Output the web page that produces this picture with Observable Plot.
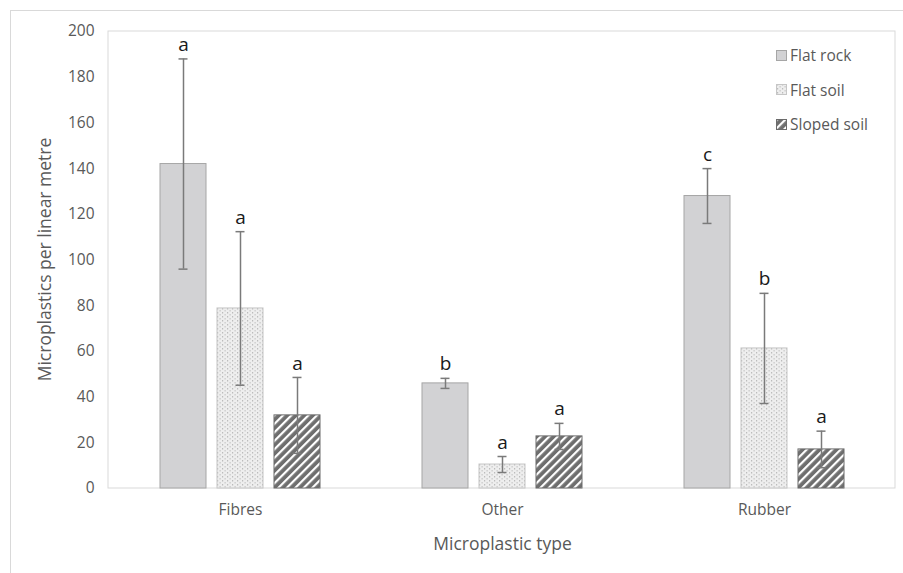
<!DOCTYPE html>
<html>
<head>
<meta charset="utf-8">
<script src="https://cdn.jsdelivr.net/npm/d3@7"></script>
<script src="https://cdn.jsdelivr.net/npm/@observablehq/plot@0.6"></script>
<style>
  html, body { margin: 0; padding: 0; background: #fff; overflow: hidden; width: 903px; height: 573px; }
  #wrap { position: relative; width: 903px; height: 573px; }
  #outer { position: absolute; left: 10px; top: 10px; width: 1000px; height: 1000px; border: 1px solid #d9d9d9; box-sizing: border-box; }
  #chart { position: absolute; left: 0; top: 0; }
  #legend { position: absolute; left: 776px; top: 44px; font-family: 'Open Sans', sans-serif; font-size: 15.5px; color: #595959; }
  #legend .item { display: flex; align-items: center; height: 22px; margin-bottom: 12.5px; }
  #legend svg { margin-right: 3px; }
</style>
</head>
<body>
<div id="wrap">
  <div id="outer"></div>
  <div id="chart"></div>
  <div id="legend"></div>
</div>
<script>
// ---- data ----
const types = ["Fibres", "Other", "Rubber"];
const sites = ["Flat rock", "Flat soil", "Sloped soil"];
const flatRock = [142, 46, 128];
const flatSoil = [78.8, 10.5, 61.3];
const slopedSoil = [32, 22.8, 17.1];
const flatRockErr = [46, 2.2, 12];
const flatSoilErr = [33.6, 3.5, 24.1];
const slopedSoilErr = [16.6, 5.7, 8];
const flatRockLetters = ["a", "b", "c"];
const flatSoilLetters = ["a", "a", "b"];
const slopedSoilLetters = ["a", "a", "a"];
const yTicks = [0, 20, 40, 60, 80, 100, 120, 140, 160, 180, 200];
const xTitle = "Microplastic type";
const yTitle = "Microplastics per linear metre";

const series = [
  {site: sites[0], vals: flatRock, err: flatRockErr, letters: flatRockLetters},
  {site: sites[1], vals: flatSoil, err: flatSoilErr, letters: flatSoilLetters},
  {site: sites[2], vals: slopedSoil, err: slopedSoilErr, letters: slopedSoilLetters}
];
const rows = [];
types.forEach((t, i) => {
  series.forEach(s => {
    rows.push({type: t, site: s.site, mean: s.vals[i], lo: s.vals[i] - s.err[i], hi: s.vals[i] + s.err[i], letter: s.letters[i]});
  });
});

const fills = {"Flat rock": "url(#pRock)", "Flat soil": "url(#pSoil)", "Sloped soil": "url(#pSlope)"};
const strokes = {"Flat rock": "#a6a6a6", "Flat soil": "#c6c6c6", "Sloped soil": "#6b6b6b"};

const W = 903, H = 573;
const mL = 108, mR = 8, mT = 31, mB = 85;

const barMarks = sites.map(s => Plot.barY(rows, {
  filter: d => d.site === s, x: "site", y: "mean",
  fill: fills[s], stroke: strokes[s], strokeWidth: 1
}));

const plot = Plot.plot({
  width: W, height: H,
  marginLeft: mL, marginRight: mR, marginTop: mT, marginBottom: mB,
  style: {fontFamily: "'Open Sans', sans-serif", fontSize: "15.5px", color: "#595959", background: "transparent"},
  facet: {data: rows, x: "type", marginTop: 0, marginBottom: 0, marginLeft: 0, marginRight: 0},
  fx: {domain: types, padding: 0, axis: "bottom", tickSize: 0, tickPadding: 15, label: xTitle, labelAnchor: "center", labelOffset: 61},
  x: {domain: sites, axis: null, paddingInner: 0.19, paddingOuter: 0.856},
  y: {domain: [0, 200], ticks: yTicks, tickSize: 0, tickPadding: 15, label: yTitle, labelAnchor: "center", labelOffset: 73},
  marks: [
    ...barMarks,
    Plot.ruleX(rows, {x: "site", y1: "lo", y2: "hi", stroke: "#7a7a7a", strokeWidth: 1.5}),
    Plot.tickY(rows, {x: "site", y: "hi", stroke: "#7a7a7a", strokeWidth: 1.5, insetLeft: 18.5, insetRight: 18.5}),
    Plot.tickY(rows, {x: "site", y: "lo", stroke: "#7a7a7a", strokeWidth: 1.5, insetLeft: 18.5, insetRight: 18.5}),
    Plot.text(rows, {x: "site", y: "hi", text: "letter", dy: -14, fill: "#1a1a1a", fontSize: 19})
  ]
});

// patterns
const svgEl = plot.tagName.toLowerCase() === "svg" ? plot : plot.querySelector("svg");
const svg = d3.select(svgEl);
const defs = svg.insert("defs", ":first-child");
const pr = defs.append("pattern").attr("id", "pRock").attr("patternUnits", "userSpaceOnUse").attr("width", 4).attr("height", 4);
pr.append("rect").attr("width", 4).attr("height", 4).attr("fill", "#d2d2d4");
const ps = defs.append("pattern").attr("id", "pSoil").attr("patternUnits", "userSpaceOnUse").attr("width", 5).attr("height", 4);
ps.append("rect").attr("width", 5).attr("height", 4).attr("fill", "#eeeeee");
ps.append("rect").attr("x", 1).attr("y", 0).attr("width", 1.2).attr("height", 1.5).attr("fill", "#bcbcbc");
ps.append("rect").attr("x", 3.5).attr("y", 2).attr("width", 1.2).attr("height", 1.5).attr("fill", "#c8c8c8");
const pl = defs.append("pattern").attr("id", "pSlope").attr("patternUnits", "userSpaceOnUse").attr("width", 6).attr("height", 6)
  .attr("patternTransform", "rotate(45)");
pl.append("rect").attr("width", 6).attr("height", 6).attr("fill", "#6e6e6e");
pl.append("rect").attr("x", 0).attr("y", 0).attr("width", 2.2).attr("height", 6).attr("fill", "#ffffff");

// plot-area border (behind marks)
svg.insert("rect", "defs + *")
  .attr("x", mL).attr("y", mT).attr("width", W - mL - mR).attr("height", H - mT - mB)
  .attr("fill", "none").attr("stroke", "#d9d9d9").attr("stroke-width", 1);

document.getElementById("chart").appendChild(plot);

// axis titles: size, strip arrows, place the y title centred on the plot area
svg.selectAll("text").filter(function() {
  const t = this.textContent;
  return (t.includes(xTitle) && !t.includes("per")) || t.includes(yTitle);
}).each(function() {
  const isY = this.textContent.includes(yTitle);
  this.textContent = isY ? yTitle : xTitle;
  this.style.fontSize = "17.5px";
  if (isY) {
    const parent = this.parentNode;
    const m = parent.getScreenCTM();
    const inv = m.inverse();
    const sr = svgEl.getBoundingClientRect();
    const pt = svgEl.createSVGPoint();
    pt.x = sr.left + 45; pt.y = sr.top + (mT + H - mB) / 2;
    const lp = pt.matrixTransform(inv);
    const ang = Math.atan2(m.b, m.a) * 180 / Math.PI;
    this.setAttribute("x", 0);
    this.setAttribute("y", 0);
    this.setAttribute("dy", "0.35em");
    this.setAttribute("dx", 0);
    this.setAttribute("text-anchor", "middle");
    this.style.textAnchor = "middle";
    this.setAttribute("transform", `translate(${lp.x},${lp.y}) rotate(${-90 - ang})`);
  }
});

// legend
const leg = d3.select("#legend");
sites.forEach(s => {
  const it = leg.append("div").attr("class", "item");
  const sv = it.append("svg").attr("width", 11).attr("height", 11);
  sv.append("rect").attr("x", 0.5).attr("y", 0.5).attr("width", 10).attr("height", 10).attr("fill", fills[s]).attr("stroke", strokes[s]);
  it.append("span").text(s);
});
</script>
</body>
</html>
